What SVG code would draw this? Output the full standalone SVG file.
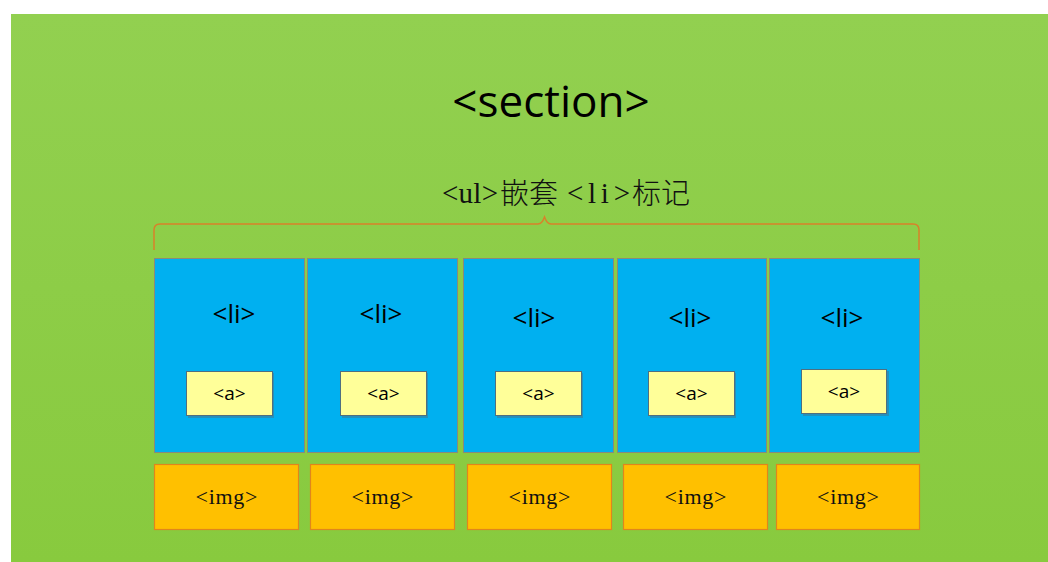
<svg xmlns="http://www.w3.org/2000/svg" width="1048" height="562" viewBox="0 0 1048 562">
<defs>
<linearGradient id="bg" x1="0" y1="0" x2="0" y2="1">
<stop offset="0" stop-color="#92d050"/>
<stop offset="1" stop-color="#88ca3e"/>
</linearGradient>
<style>
.li{fill:#00b0f0;stroke:#8a8a7a;stroke-width:1}
.a{fill:#ffff99;stroke:#4f6f80;stroke-width:1}
.sh{fill:#3c7d9a;opacity:0.6}
.img{fill:#ffc000;stroke:#e0861c;stroke-width:1.2}
.sans{font-family:"Open Sans","Liberation Sans",sans-serif;fill:#000;text-anchor:middle}
.serif{font-family:"Liberation Serif","Noto Sans CJK SC",serif;fill:#111}
.cjk{font-family:"Noto Sans CJK SC",sans-serif;fill:#111;font-weight:300}
.lt{font-size:26px}
.at{font-size:19px}
.it{font-size:22px}
</style>
</defs>
<rect x="0" y="0" width="1048" height="562" fill="#fff"/>
<rect x="11" y="14" width="1037" height="548" fill="url(#bg)"/>
<text class="sans" x="551" y="117" font-size="44">&lt;section&gt;</text>
<g id="subtitle" font-size="29">
<text class="serif" x="442" y="203" textLength="56" lengthAdjust="spacing">&lt;ul&gt;</text>
<text class="cjk" x="500" y="204">嵌套</text>
<text class="serif" x="567" y="203" textLength="63" lengthAdjust="spacing">&lt;li&gt;</text>
<text class="cjk" x="632" y="204">标记</text>
</g>
<g id="connectors">
<path d="M154,250 V230 Q154,224 160,224 H538 Q542,224 544.5,217 Q547,224 551,224 H913 Q919,224 919,230 V250" fill="none" stroke="#d9812a" stroke-width="1.5"/>
</g>
<g id="li1"><rect class="li" x="154.5" y="258.5" width="150" height="194"/><text class="sans lt" x="234" y="323">&lt;li&gt;</text></g>
<g id="li2"><rect class="li" x="307.5" y="258.5" width="150" height="194"/><text class="sans lt" x="381" y="323">&lt;li&gt;</text></g>
<g id="li3"><rect class="li" x="463.5" y="258.5" width="150" height="194"/><text class="sans lt" x="534" y="327">&lt;li&gt;</text></g>
<g id="li4"><rect class="li" x="617.5" y="258.5" width="149" height="194"/><text class="sans lt" x="690" y="327">&lt;li&gt;</text></g>
<g id="li5"><rect class="li" x="769.5" y="258.5" width="150" height="194"/><text class="sans lt" x="842" y="327">&lt;li&gt;</text></g>
<g id="a1"><rect class="sh" x="188" y="373" width="86" height="45"/><rect class="a" x="186.5" y="371.5" width="86" height="44"/><text class="sans at" x="229.5" y="400">&lt;a&gt;</text></g>
<g id="a2"><rect class="sh" x="342" y="373" width="86" height="45"/><rect class="a" x="340.5" y="371.5" width="86" height="44"/><text class="sans at" x="383.5" y="400">&lt;a&gt;</text></g>
<g id="a3"><rect class="sh" x="497" y="373" width="86" height="45"/><rect class="a" x="495.5" y="371.5" width="86" height="44"/><text class="sans at" x="538.5" y="400">&lt;a&gt;</text></g>
<g id="a4"><rect class="sh" x="650" y="373" width="86" height="45"/><rect class="a" x="648.5" y="371.5" width="86" height="44"/><text class="sans at" x="691.5" y="400">&lt;a&gt;</text></g>
<g id="a5"><rect class="sh" x="803" y="371" width="86" height="45"/><rect class="a" x="801.5" y="369.5" width="85" height="44"/><text class="sans at" x="844" y="398">&lt;a&gt;</text></g>
<g id="img1"><rect class="img" x="154.5" y="464.5" width="144" height="65"/><text class="serif it" x="195.5" y="504" textLength="62" lengthAdjust="spacing">&lt;img&gt;</text></g>
<g id="img2"><rect class="img" x="310.5" y="464.5" width="144" height="65"/><text class="serif it" x="351.5" y="504" textLength="62" lengthAdjust="spacing">&lt;img&gt;</text></g>
<g id="img3"><rect class="img" x="467.5" y="464.5" width="144" height="65"/><text class="serif it" x="508.5" y="504" textLength="62" lengthAdjust="spacing">&lt;img&gt;</text></g>
<g id="img4"><rect class="img" x="623.5" y="464.5" width="144" height="65"/><text class="serif it" x="664.5" y="504" textLength="62" lengthAdjust="spacing">&lt;img&gt;</text></g>
<g id="img5"><rect class="img" x="776.5" y="464.5" width="143" height="65"/><text class="serif it" x="817" y="504" textLength="62" lengthAdjust="spacing">&lt;img&gt;</text></g>
</svg>
